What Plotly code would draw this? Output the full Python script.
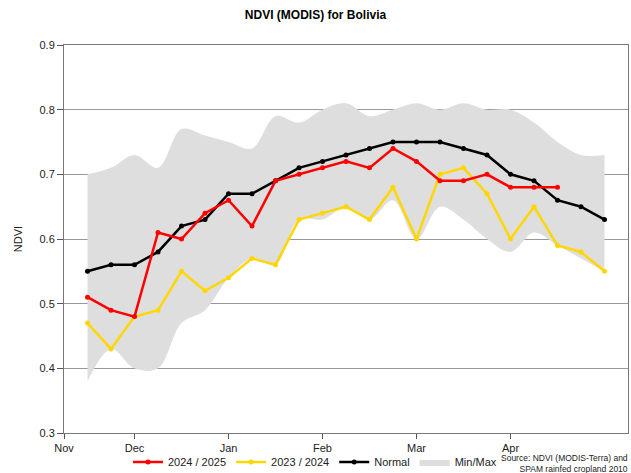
import plotly.graph_objects as go

# period index: 4 periods per month, 0 = 1 Dec
periods = list(range(-2, 21))

month_pos = [-3, 0, 4, 8, 12, 16]
month_labels = ['Nov', 'Dec', 'Jan', 'Feb', 'Mar', 'Apr']

ndvi_2024_25 = [0.51, 0.49, 0.48, 0.61, 0.60, 0.64, 0.66, 0.62, 0.69, 0.70, 0.71,
                0.72, 0.71, 0.74, 0.72, 0.69, 0.69, 0.70, 0.68, 0.68, 0.68]
ndvi_2023_24 = [0.47, 0.43, 0.48, 0.49, 0.55, 0.52, 0.54, 0.57, 0.56, 0.63, 0.64, 0.65,
                0.63, 0.68, 0.60, 0.70, 0.71, 0.67, 0.60, 0.65, 0.59, 0.58, 0.55]
ndvi_normal = [0.55, 0.56, 0.56, 0.58, 0.62, 0.63, 0.67, 0.67, 0.69, 0.71, 0.72, 0.73,
               0.74, 0.75, 0.75, 0.75, 0.74, 0.73, 0.70, 0.69, 0.66, 0.65, 0.63]
ndvi_min = [0.38, 0.43, 0.40, 0.40, 0.47, 0.49, 0.54, 0.57, 0.56, 0.63, 0.63, 0.65,
            0.63, 0.66, 0.60, 0.65, 0.63, 0.60, 0.58, 0.61, 0.59, 0.57, 0.55]
ndvi_max = [0.70, 0.71, 0.73, 0.71, 0.77, 0.76, 0.75, 0.74, 0.79, 0.78, 0.80, 0.81,
            0.79, 0.80, 0.81, 0.80, 0.81, 0.80, 0.80, 0.78, 0.75, 0.73, 0.73]

FONT = 'Arial, Liberation Sans, sans-serif'

fig = go.Figure()
fig.add_trace(go.Scatter(x=periods, y=ndvi_min, mode='lines', line=dict(width=0, shape='spline'),
                         showlegend=False, hoverinfo='skip'))
fig.add_trace(go.Scatter(x=periods, y=ndvi_max, mode='lines', line=dict(width=0, shape='spline'),
                         fill='tonexty', fillcolor='#DEDEDE', name='Min/Max', legendrank=4))
fig.add_trace(go.Scatter(x=periods, y=ndvi_2023_24, mode='lines+markers', name='2023 / 2024',
                         line=dict(color='#FFD700', width=2.5), marker=dict(size=5), legendrank=2))
fig.add_trace(go.Scatter(x=periods, y=ndvi_normal, mode='lines+markers', name='Normal',
                         line=dict(color='black', width=2.5), marker=dict(size=5), legendrank=3))
fig.add_trace(go.Scatter(x=periods[:len(ndvi_2024_25)], y=ndvi_2024_25, mode='lines+markers',
                         name='2024 / 2025', line=dict(color='#FF0000', width=2.5),
                         marker=dict(size=5), legendrank=1))

fig.update_layout(
    width=631, height=473,
    margin=dict(l=64, r=3, t=45, b=40, autoexpand=False),
    paper_bgcolor='white', plot_bgcolor='white',
    font=dict(family=FONT, size=11, color='#222'),
    title=dict(text='<b>NDVI (MODIS) for Bolivia</b>', x=0.5, xanchor='center',
               y=1 - 15 / 473, yanchor='middle', yref='container',
               font=dict(size=12, color='black')),
    showlegend=True,
    legend=dict(orientation='h', traceorder='normal', x=0.445, xanchor='center',
                y=0.054, yanchor='top', yref='container',
                font=dict(size=11), itemwidth=30, bgcolor='rgba(0,0,0,0)'),
    xaxis=dict(range=[-3, 21], tickvals=month_pos, ticktext=month_labels,
               showgrid=False, zeroline=False, showline=True, mirror=True,
               linecolor='#777', linewidth=1, ticks='outside', ticklen=5, tickcolor='#555'),
    yaxis=dict(range=[0.3, 0.9], dtick=0.1, tickformat='.1f',
               showgrid=True, gridcolor='#999', gridwidth=1, zeroline=False,
               showline=True, mirror=True, linecolor='#777', linewidth=1,
               ticks='outside', ticklen=6, tickcolor='#555',
               title=dict(text='NDVI', standoff=14, font=dict(size=11))),
)

fig.add_annotation(
    x=(630 - 64) / 564, y=-0.047, xref='paper', yref='paper',
    xanchor='right', yanchor='top', align='right', showarrow=False,
    text='Source: NDVI (MODIS-Terra) and<br>SPAM rainfed cropland 2010',
    font=dict(size=8.5, color='#222')
)

fig.write_html("out.html", config={'displayModeBar': False},
               post_script="document.body.style.margin='0';")
